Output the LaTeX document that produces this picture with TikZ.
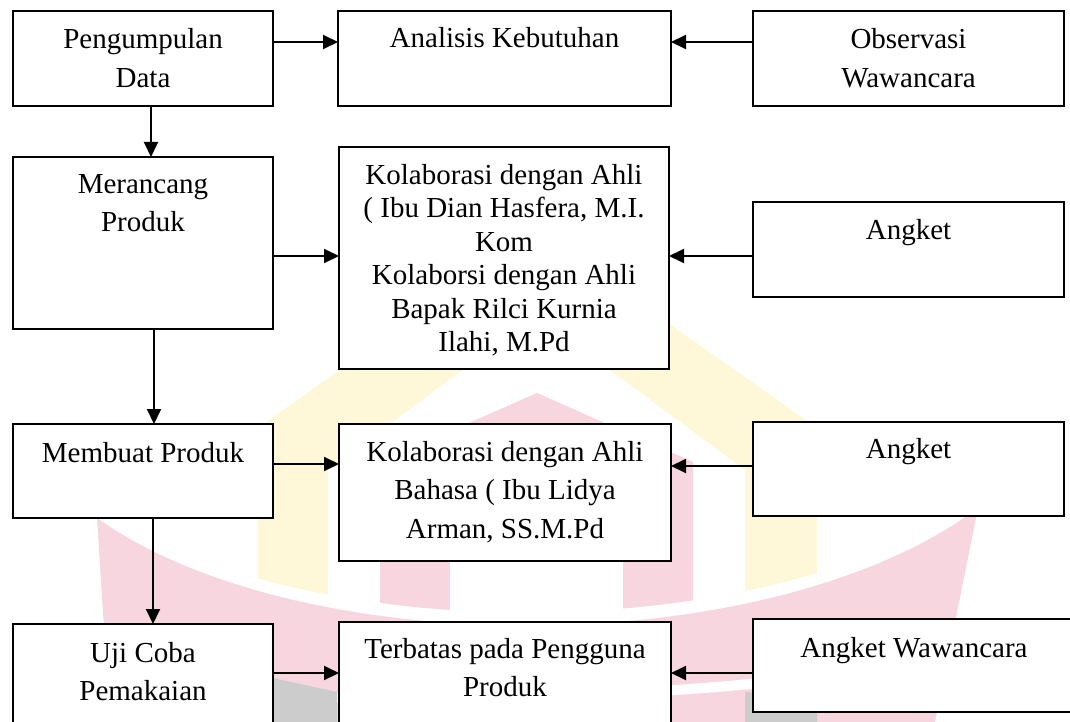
\documentclass[tikz,border=0pt]{standalone}
\usepackage{fontspec}
\setmainfont{Liberation Serif}
\usetikzlibrary{arrows.meta,calc}
\definecolor{wmpink}{RGB}{248,214,224}
\definecolor{wmyellow}{RGB}{255,248,216}
\definecolor{wmgray}{RGB}{204,204,204}
\begin{document}
\begin{tikzpicture}[x=1pt,y=-1pt,
  box/.style={draw,line width=1.8pt,inner sep=0pt,outer sep=0pt,anchor=north west,fill=white},
  txt/.style={inner sep=0pt,outer sep=0pt,anchor=north,align=center,font=\fontsize{29}{38.5}\selectfont},
  tight/.style={font=\fontsize{29}{33.5}\selectfont},
  arr/.style={line width=1.9pt,-{Triangle[length=15pt,width=14pt]}}]
\useasboundingbox (0,0) rectangle (1070,722);
\clip (0,0) rectangle (1070,722);
\fill[white] (0,0) rectangle (1070,722);
% ---- faint watermark ----
\fill[wmyellow,even odd rule] (258,640) -- (258,428) -- (536,230) -- (817,428) -- (817,640) -- cycle
  (328,640) -- (328,470) -- (536,315) -- (745,470) -- (745,640) -- cycle;
\fill[wmpink] (380,640) -- (380,462) -- (537,393) -- (693,462) -- (693,640) -- cycle;
\fill[white] (450,500) rectangle (623,640);
\fill[white] (90,505) .. controls (300,650) and (770,650) .. (985,495) -- (1070,495) -- (1070,722) -- (90,722) -- cycle;
\fill[wmpink] (97,518) .. controls (300,663) and (770,663) .. (978,508) -- (935,722) -- (110,722) -- cycle;
\draw[white,line width=10pt] (120,690) .. controls (350,705) and (750,705) .. (965,650);
\fill[wmgray] (273,678) -- (337,692) -- (337,722) -- (273,722) -- cycle;
\fill[wmgray] (745,692) -- (817,696) -- (817,722) -- (745,722) -- cycle;
% ---- boxes ----
\node[box,minimum width=260pt,minimum height=95pt]  (pd) at (13,11) {};
\node[box,minimum width=333pt,minimum height=95pt]  (ak) at (338,11) {};
\node[box,minimum width=311pt,minimum height=95pt]  (ow) at (753,11) {};
\node[box,minimum width=260pt,minimum height=172pt] (mp) at (13,157) {};
\node[box,minimum width=330pt,minimum height=222pt] (k1) at (339,147) {};
\node[box,minimum width=311pt,minimum height=95pt]  (a1) at (753,202) {};
\node[box,minimum width=260pt,minimum height=94pt]  (mb) at (13,424) {};
\node[box,minimum width=332pt,minimum height=137pt] (k2) at (339,424) {};
\node[box,minimum width=311pt,minimum height=94pt]  (a2) at (753,422) {};
\node[box,minimum width=260pt,minimum height=120pt] (uc) at (13,624) {};
\node[box,minimum width=332pt,minimum height=120pt] (tp) at (339,622) {};
\node[box,minimum width=322pt,minimum height=93pt]  (aw) at (753,619) {};
% ---- texts ----
\node[txt] (pdt) at ([yshift=-14pt]pd.north) {\rule{0pt}{24pt}Pengumpulan\\Data};
\node[txt] (akt) at ([yshift=-13pt]ak.north) {\rule{0pt}{24pt}Analisis Kebutuhan};
\node[txt] (owt) at ([yshift=-14pt]ow.north) {\rule{0pt}{24pt}Observasi\\Wawancara};
\node[txt] (mpt) at ([yshift=-12pt]mp.north) {\rule{0pt}{24pt}Merancang\\Produk};
\node[txt,tight] (k1t) at ([yshift=-13pt]k1.north) {\rule{0pt}{24pt}Kolaborasi dengan Ahli\\( Ibu Dian Hasfera, M.I.\\Kom\\Kolaborsi dengan Ahli\\Bapak Rilci Kurnia\\Ilahi, M.Pd};
\node[txt] (a1t) at ([yshift=-13pt]a1.north) {\rule{0pt}{24pt}Angket};
\node[txt] (mbt) at ([yshift=-14pt]mb.north) {\rule{0pt}{24pt}Membuat Produk};
\node[txt] (k2t) at ([yshift=-13pt]k2.north) {\rule{0pt}{24pt}Kolaborasi dengan Ahli\\Bahasa ( Ibu Lidya\\Arman, SS.M.Pd};
\node[txt] (a2t) at ([yshift=-12pt]a2.north) {\rule{0pt}{24pt}Angket};
\node[txt] (uct) at ([yshift=-14pt]uc.north) {\rule{0pt}{24pt}Uji Coba\\Pemakaian};
\node[txt] (tpt) at ([yshift=-12pt]tp.north) {\rule{0pt}{24pt}Terbatas pada Pengguna\\Produk};
\node[txt] (awt) at ([yshift=-14pt]aw.north) {\rule{0pt}{24pt}Angket Wawancara};
% ---- connectors ----
\draw[arr] ([yshift=16.5pt]pd.east) -- ([yshift=16.5pt]pd.east -| ak.west);
\draw[arr] ([yshift=16.5pt]ow.west) -- ([yshift=16.5pt]ow.west -| ak.east);
\draw[arr] ([xshift=8pt]pd.south) -- ([xshift=8pt]pd.south |- mp.north);
\draw[arr] ([yshift=-13pt]mp.east) -- ([yshift=-13pt]mp.east -| k1.west);
\draw[arr] ([yshift=-6.5pt]a1.west) -- ([yshift=-6.5pt]a1.west -| k1.east);
\draw[arr] ([xshift=11pt]mp.south) -- ([xshift=11pt]mp.south |- mb.north);
\draw[arr] ([yshift=7pt]mb.east) -- ([yshift=7pt]mb.east -| k2.west);
\draw[arr] ([yshift=3pt]a2.west) -- ([yshift=3pt]a2.west -| k2.east);
\draw[arr] ([xshift=10pt]mb.south) -- ([xshift=10pt]mb.south |- uc.north);
\draw[arr] ([yshift=11pt]uc.east) -- ([yshift=11pt]uc.east -| tp.west);
\draw[arr] ([yshift=-7.5pt]aw.west) -- ([yshift=-7.5pt]aw.west -| tp.east);
\end{tikzpicture}
\end{document}
